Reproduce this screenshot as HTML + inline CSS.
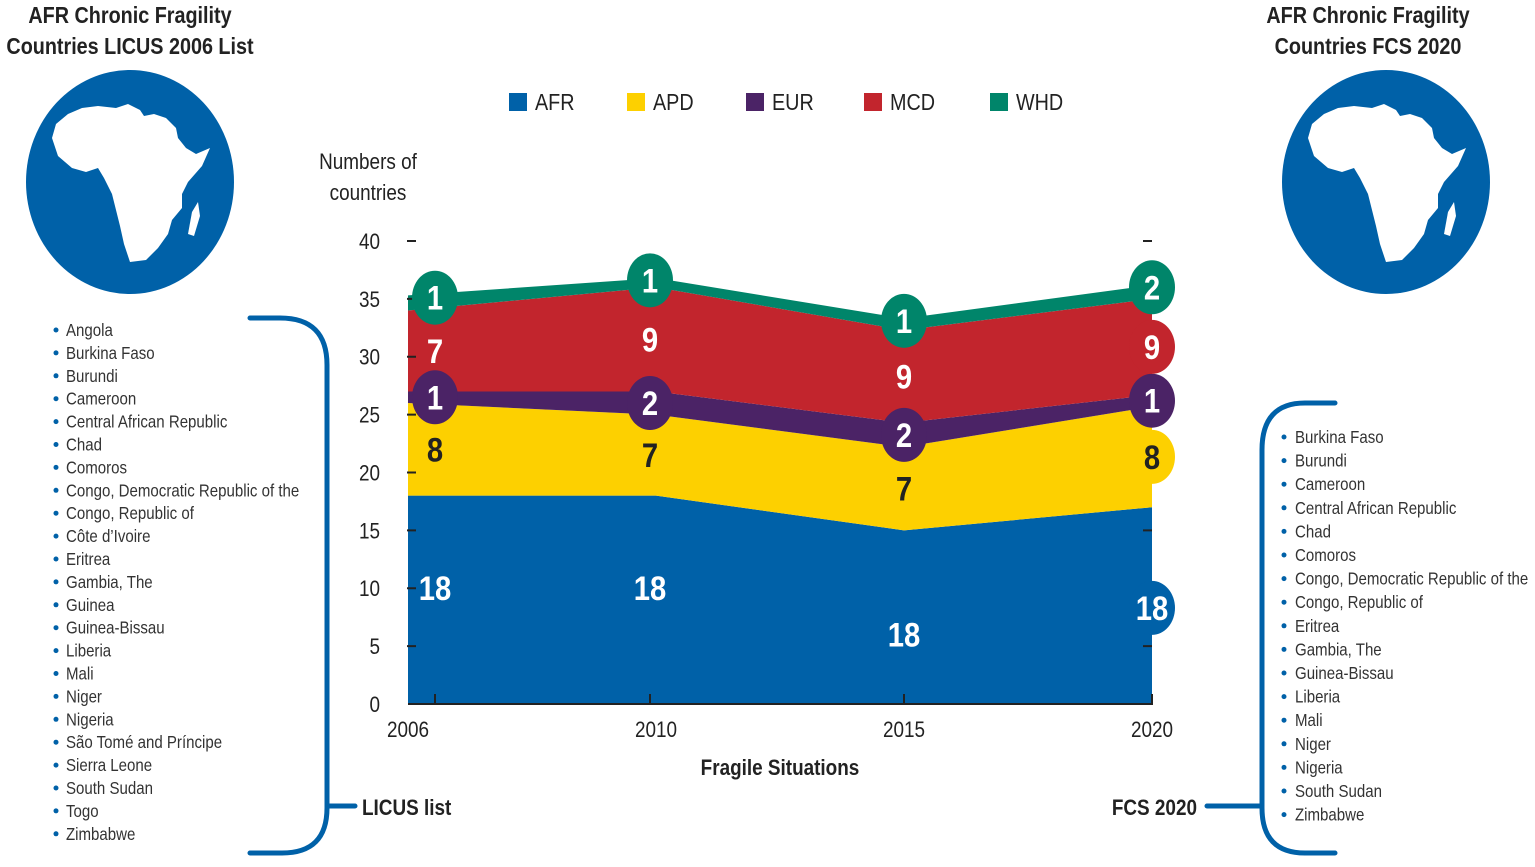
<!DOCTYPE html>
<html><head><meta charset="utf-8">
<style>
html,body{margin:0;padding:0;background:#fff;}
body{width:1535px;height:862px;overflow:hidden;position:relative;font-family:"Liberation Sans",sans-serif;}
svg text{font-family:"Liberation Sans",sans-serif;}
</style></head>
<body>
<svg id="chart" width="1535" height="862" viewBox="0 0 1535 862" xmlns="http://www.w3.org/2000/svg">
<defs>
<g id="africa">
<path d="M-22,-62 L-10,-66 L2,-60 L6,-54 L16,-56 L28,-52 L38,-42 L40,-32 L48,-22 L58,-16 L72,-22 L64,-4 L50,12 L44,24 L44,38 L34,50 L30,64 L20,78 L8,90 L-8,92 L-14,74 L-18,56 L-22,40 L-26,24 L-34,8 L-40,-2 L-52,2 L-66,-2 L-80,-14 L-86,-32 L-82,-46 L-70,-56 L-56,-62 L-40,-64 Z" fill="#fff"/>
<path d="M54,42 L60,32 L62,46 L56,66 L50,64 Z" fill="#fff"/>
</g>
</defs>
</svg>
<script>
const years = ['2006','2010','2015','2020'];
const seriesNames = ['AFR','APD','EUR','MCD','WHD'];
const afr = [18, 18, 15, 17];
const apd = [8, 7, 7.2, 8.7];
const eur = [1, 2, 2.1, 1];
const mcd = [7, 9, 8, 8.3];
const whd = [1.3, 0.8, 1, 1.2];
const afrLabels = ['18','18','18','18'];
const apdLabels = ['8','7','7','8'];
const eurLabels = ['1','2','2','1'];
const mcdLabels = ['7','9','9','9'];
const whdLabels = ['1','1','1','2'];
const yTicks = [0,5,10,15,20,25,30,35,40];
const leftList = ['Angola','Burkina Faso','Burundi','Cameroon','Central African Republic','Chad','Comoros','Congo, Democratic Republic of the','Congo, Republic of','Côte d’Ivoire','Eritrea','Gambia, The','Guinea','Guinea-Bissau','Liberia','Mali','Niger','Nigeria','São Tomé and Príncipe','Sierra Leone','South Sudan','Togo','Zimbabwe'];
const rightList = ['Burkina Faso','Burundi','Cameroon','Central African Republic','Chad','Comoros','Congo, Democratic Republic of the','Congo, Republic of','Eritrea','Gambia, The','Guinea-Bissau','Liberia','Mali','Niger','Nigeria','South Sudan','Zimbabwe'];

const svg = document.getElementById('chart');
const NS = 'http://www.w3.org/2000/svg';
const colors = ['#0061a8','#fdd000','#4b2366','#c2252d','#00856a'];
const SX = 0.86;
function mk(tag, attrs, txt){
  const e=document.createElementNS(NS,tag);
  for(const k in attrs)e.setAttribute(k,attrs[k]);
  if(txt!==undefined){
    e.textContent=txt;
    const x=+attrs.x;
    e.setAttribute('transform','matrix('+SX+',0,0,1,'+(x*(1-SX))+',0)');
  }
  svg.appendChild(e);return e;
}
const X0=408, X1=1152, Y0=704, Y40=241;
const xScale = i => X0 + i*(X1-X0)/(years.length-1);
const yScale = v => Y0 - v*(Y0-Y40)/40;
const labelX = [435, 650, 904, 1152];

let t;
t=mk('text',{x:130,y:23,'text-anchor':'middle','font-size':23,'font-weight':'bold',fill:'#222'},'AFR Chronic Fragility');


t=mk('text',{x:130,y:54,'text-anchor':'middle','font-size':23,'font-weight':'bold',fill:'#222'},'Countries LICUS 2006 List');


t=mk('text',{x:1368,y:23,'text-anchor':'middle','font-size':23,'font-weight':'bold',fill:'#222'},'AFR Chronic Fragility');


t=mk('text',{x:1368,y:54,'text-anchor':'middle','font-size':23,'font-weight':'bold',fill:'#222'},'Countries FCS 2020');



[[130,'left-globe'],[1386,'right-globe']].forEach(g=>{
  const c=mk('ellipse',{cx:g[0],cy:182,rx:104,ry:112,fill:'#0061a8'});
  
  
  const u=mk('use',{href:'#africa',transform:'translate('+(g[0]+8)+',170)'});
  
  
});

const legX=[509,627,746,864,990];
seriesNames.forEach((n,i)=>{
  const r=mk('rect',{x:legX[i],y:93,width:18,height:18,fill:colors[i]});
  
  
  const tx=mk('text',{x:legX[i]+26,y:110,'font-size':23,fill:'#222'},n);
  
  
});

t=mk('text',{x:368,y:169,'text-anchor':'middle','font-size':22,fill:'#222'},'Numbers of');


t=mk('text',{x:368,y:200,'text-anchor':'middle','font-size':22,fill:'#222'},'countries');



const stacks=[afr,apd,eur,mcd,whd];
const labels=[afrLabels,apdLabels,eurLabels,mcdLabels,whdLabels];
let base=years.map(()=>0);
const bounds=[];
stacks.forEach((s,k)=>{
  const top=base.map((b,i)=>b+s[i]);
  let d='M'+years.map((y,i)=>xScale(i)+','+yScale(top[i])).join(' L');
  for(let i=years.length-1;i>=0;i--) d+=' L'+xScale(i)+','+yScale(base[i]);
  const p=mk('path',{d:d+' Z',fill:colors[k]});
  
  
  bounds.push([base.slice(),top.slice()]);
  base=top;
});

yTicks.forEach(v=>{
  const tx=mk('text',{x:380,y:yScale(v)+8,'text-anchor':'end','font-size':22,fill:'#222'},String(v));
  
  
  if(v>0){
    const l=mk('line',{x1:407,x2:416,y1:yScale(v),y2:yScale(v),stroke:'#222','stroke-width':2});
    
    
    const l2=mk('line',{x1:1143,x2:1152,y1:yScale(v),y2:yScale(v),stroke:'#222','stroke-width':2});
    
    
  }
});
const ax=mk('line',{x1:X0,x2:X1+1,y1:Y0,y2:Y0,stroke:'#222','stroke-width':2});


years.forEach((y,i)=>{
  const tx=labelX[i];
  const l=mk('line',{x1:tx,x2:tx,y1:Y0-10,y2:Y0,stroke:'#222','stroke-width':2});
  
  
  const lb=mk('text',{x:xScale(i),y:737,'text-anchor':'middle','font-size':22,fill:'#222'},y);
  
  
});
t=mk('text',{x:780,y:775,'text-anchor':'middle','font-size':22,'font-weight':'bold',fill:'#222'},'Fragile Situations');



const circled=[[false,false,false,true],[false,false,false,true],[true,true,true,true],[false,false,false,true],[true,true,true,true]];
stacks.forEach((s,k)=>{
  years.forEach((y,i)=>{
    const [b,tp]=[bounds[k][0][i],bounds[k][1][i]];
    let v;
    if(k===4) v=tp-0.2; else v=(b+tp)/2;
    if(k===0) v=(i===2)?6:(i===3?8.3:10);
    const cx=labelX[i], cy=yScale(v);
    if(circled[k][i]){
      const c=mk('ellipse',{cx:cx,cy:cy,rx:23,ry:27,fill:colors[k]});
      
      
    }
    const tx=mk('text',{x:cx,y:cy+12,'text-anchor':'middle','font-size':34,'font-weight':'bold',fill:k===1?'#222':'#fff'},labels[k][i]);
    
    
  });
});

leftList.forEach((n,i)=>{
  const y=330+i*22.9;
  const d=mk('circle',{cx:56,cy:y,r:2.5,fill:'#0061a8'});
  
  
  const tx=mk('text',{x:66,y:y+6,'font-size':17.5,fill:'#333'},n);
  
  
});
rightList.forEach((n,i)=>{
  const y=437+i*23.6;
  const d=mk('circle',{cx:1284,cy:y,r:2.5,fill:'#0061a8'});
  
  
  const tx=mk('text',{x:1295,y:y+6,'font-size':17.5,fill:'#333'},n);
  
  
});

let br=mk('path',{d:'M250,318 L280,318 Q327,318 327,365 L327,806 L355,806 M327,806 L327,808 Q327,853 282,853 L250,853',fill:'none',stroke:'#0061a8','stroke-width':5,'stroke-linecap':'round'});


br=mk('path',{d:'M1335,403 L1305,403 Q1262,403 1262,450 L1262,806 L1207,806 M1262,806 L1262,808 Q1262,853 1305,853 L1335,853',fill:'none',stroke:'#0061a8','stroke-width':5,'stroke-linecap':'round'});


t=mk('text',{x:362,y:815,'font-size':22,'font-weight':'bold',fill:'#222'},'LICUS list');


t=mk('text',{x:1197,y:815,'text-anchor':'end','font-size':22,'font-weight':'bold',fill:'#222'},'FCS 2020');


</script>
</body></html>
